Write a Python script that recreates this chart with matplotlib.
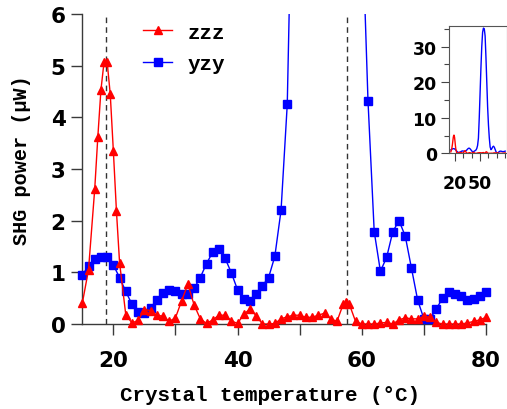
import numpy as np
import matplotlib
matplotlib.use("Agg")
import matplotlib.pyplot as plt
from matplotlib.lines import Line2D

# ---- data ----
red_t = [15, 16, 17, 17.5, 18, 18.5, 19, 19.5, 20, 20.5, 21,
         22, 23, 24, 25, 26, 27, 28, 29, 30, 31, 32, 33, 34, 35, 36, 37, 38, 39,
         40, 41, 42, 43, 44, 45, 46, 47, 48, 49, 50, 51, 52, 53, 54, 55, 56,
         57, 57.5, 58,
         59, 60, 61, 62, 63, 64, 65, 66, 67, 68, 69, 70, 71, 72, 73, 74, 75, 76,
         77, 78, 79, 80]
red_v = [0.40, 1.05, 2.61, 3.62, 4.53, 5.07, 5.07, 4.45, 3.35, 2.18, 1.19,
         0.18, 0.02, 0.07, 0.28, 0.26, 0.17, 0.15, 0.05, 0.12, 0.45, 0.77, 0.37,
         0.10, 0.01, 0.08, 0.17, 0.17, 0.06, 0.01, 0.19, 0.29, 0.16, 0.0, 0.0,
         0.01, 0.10, 0.14, 0.17, 0.17, 0.13, 0.13, 0.17, 0.21, 0.10, 0.05,
         0.38, 0.42, 0.38,
         0.05, 0.0, 0.0, 0.0, 0.02, 0.03, 0.0, 0.08, 0.12, 0.10, 0.10, 0.15,
         0.13, 0.03, 0.0, 0.0, 0.0, 0.0, 0.02, 0.05, 0.08, 0.13]

blue_t = list(range(15, 81))
blue_v = [0.95, 1.12, 1.26, 1.30, 1.30, 1.14, 0.90, 0.63, 0.38, 0.23,
          0.22, 0.31, 0.47, 0.60, 0.66, 0.63, 0.59, 0.58, 0.69, 0.90,
          1.17, 1.39, 1.45, 1.27, 0.99, 0.66, 0.48, 0.45, 0.58, 0.74,
          0.90, 1.31, 2.20, 4.25, 10.0, 17.0, 24.0, 30.0, 34.0, 35.2,
          35.0, 33.0, 27.0, 20.0, 13.0, 8.0, 4.32, 1.79, 1.02, 1.29,
          1.79, 2.00, 1.70, 1.08, 0.46, 0.10, 0.10, 0.29, 0.50, 0.61,
          0.59, 0.54, 0.46, 0.48, 0.54, 0.61]

dashed_x = [18.8, 57.6]
series_labels = ["zzz", "yzy"]
x_ticks = [20, 40, 60, 80]
x_minor = [30, 50, 70]
y_ticks = [0, 1, 2, 3, 4, 5, 6]
inset_yticks = [0, 10, 20, 30]
inset_xticks = [20, 50]
inset_xminor = [30, 40, 60, 70, 80]

RED = "#ff0000"
BLUE = "#0000ff"
SPINE = "#3a3a3a"
mono = "Liberation Mono"
sans = "DejaVu Sans"

fig = plt.figure(figsize=(5.07, 4.10), dpi=100)
ax = fig.add_axes([82.3 / 507, 1 - 325 / 410, (486 - 82.3) / 507, (325 - 15) / 410])

rt = np.array(red_t); rv = np.array(red_v)
bt = np.array(blue_t); bv = np.array(blue_v)

ax.plot(bt, bv, color=BLUE, lw=1.0, zorder=3)
ax.plot(rt, rv, color=RED, lw=1.0, zorder=4)
mb = bv <= 6
mr = rv <= 6
ax.plot(bt[mb], bv[mb], ls="none", marker="s", ms=5.8, color=BLUE, mec=BLUE,
        clip_on=False, zorder=3)
ax.plot(rt[mr], rv[mr], ls="none", marker="^", ms=6.2, color=RED, mec=RED,
        clip_on=False, zorder=4)

for dx in dashed_x:
    ax.axvline(dx, color="#333333", lw=1.0, ls=(0, (4, 3)), zorder=2)

ax.set_xlim(15, 80)
ax.set_ylim(0, 6)
ax.set_xticks(x_ticks)
ax.set_xticks(x_minor, minor=True)
ax.set_yticks(y_ticks)
for s in ["top", "right"]:
    ax.spines[s].set_visible(False)
for s in ["left", "bottom"]:
    ax.spines[s].set_color(SPINE)
    ax.spines[s].set_linewidth(1.0)
ax.tick_params(axis="x", which="both", direction="out", length=8, width=1,
               color=SPINE, pad=11)
ax.tick_params(axis="y", which="both", direction="out", length=8, width=1,
               color=SPINE, pad=4)
for lab in ax.get_xticklabels() + ax.get_yticklabels():
    lab.set_fontfamily(sans)
    lab.set_fontweight("bold")
    lab.set_fontsize(15.5)

fig.text(270 / 507, 1 - 396 / 410, "Crystal temperature (°C)", ha="center",
         va="center", fontfamily=mono, fontweight="bold", fontsize=15)
fig.text(22 / 507, 1 - 160 / 410, "SHG power (μW)", ha="center", va="center",
         rotation=90, fontfamily=mono, fontweight="bold", fontsize=14.5)

handles = [Line2D([], [], color=RED, lw=1.0, marker="^", ms=6.2),
           Line2D([], [], color=BLUE, lw=1.0, marker="s", ms=5.8)]
leg = ax.legend(handles, series_labels, loc="center left",
                bbox_to_anchor=(143 / 507, 1 - 49 / 410),
                bbox_transform=fig.transFigure, frameon=False,
                prop={"family": mono, "weight": "bold", "size": 15},
                handlelength=1.4, handletextpad=0.75, labelspacing=0.6,
                borderpad=0, borderaxespad=0, numpoints=1)

# ---- inset ----
ins = fig.add_axes([449.3 / 507, 1 - 154.3 / 410, (506.7 - 449.3) / 507,
                    (154.3 - 27.3) / 410])
ins.plot(bt, bv, color=BLUE, lw=1.0)
ins.plot(rt, rv, color=RED, lw=1.0)
ins.set_xlim(13.2, 81.8)
ins.set_ylim(0, 35.7)
ins.set_yticks(inset_yticks)
ins.set_yticks([5, 15, 25, 35], minor=True)
ins.set_xticks(inset_xticks)
ins.set_xticks(inset_xminor, minor=True)
for s in ins.spines.values():
    s.set_color("#555555")
    s.set_linewidth(0.8)
ins.tick_params(which="major", direction="out", length=6, width=0.8,
                color="#444444")
ins.tick_params(which="minor", direction="out", length=3.5, width=0.8,
                color="#444444")
ins.tick_params(axis="x", pad=9)
ins.tick_params(axis="y", pad=3)
for lab in ins.get_xticklabels() + ins.get_yticklabels():
    lab.set_fontfamily(sans)
    lab.set_fontweight("bold")
    lab.set_fontsize(12.5)

fig.savefig("out.png", dpi=100)
